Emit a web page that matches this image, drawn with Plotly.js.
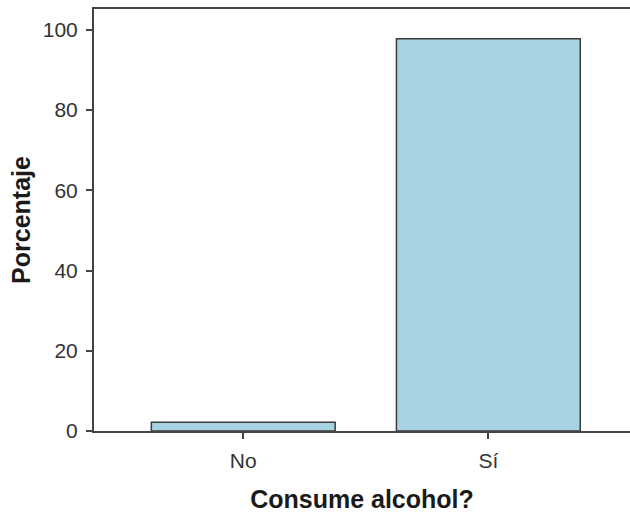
<!DOCTYPE html>
<html>
<head>
<meta charset="utf-8">
<script src="https://cdn.plot.ly/plotly-3.0.1.min.js"></script>
<style>html,body{margin:0;padding:0;background:#fff}#chart{width:630px;height:514px}</style>
</head>
<body>
<div id="chart"></div>
<script>
const categories = ["No", "Sí"];
const percentages = [2.2, 97.8];
const yTickValues = [0, 20, 40, 60, 80, 100];
const xTitle = "Consume alcohol?";
const yTitle = "Porcentaje";

const trace = {
  type: "bar",
  x: categories,
  y: percentages,
  width: 0.75,
  marker: { color: "#a6d2e1", line: { color: "#3a3a3a", width: 1.5 } },
  hoverinfo: "none"
};

const layout = {
  width: 630,
  height: 514,
  margin: { l: 94, r: 0, t: 9, b: 83, pad: 0 },
  paper_bgcolor: "#ffffff",
  plot_bgcolor: "#ffffff",
  showlegend: false,
  font: { family: "Liberation Sans, Arial, sans-serif", color: "#333333" },
  xaxis: {
    type: "category",
    range: [-0.609, 1.578],
    showline: true,
    linecolor: "#444444",
    linewidth: 2,
    mirror: true,
    ticks: "outside",
    ticklen: 6,
    tickwidth: 2,
    tickcolor: "#444444",
    ticklabelstandoff: 4,
    showgrid: false,
    zeroline: false,
    tickfont: { size: 21, color: "#333333" },
    title: { text: xTitle, font: { size: 25, color: "#1a1a1a", family: "Liberation Sans, Arial, sans-serif", weight: "bold" }, standoff: 19 }
  },
  yaxis: {
    range: [0, 105.2],
    tickvals: yTickValues,
    showline: true,
    linecolor: "#444444",
    linewidth: 2,
    mirror: false,
    ticks: "outside",
    ticklen: 6,
    tickwidth: 2,
    tickcolor: "#444444",
    ticklabelstandoff: 4,
    showgrid: false,
    zeroline: false,
    tickfont: { size: 21, color: "#333333" },
    title: { text: yTitle, font: { size: 25, color: "#1a1a1a", family: "Liberation Sans, Arial, sans-serif", weight: "bold" }, standoff: 5 }
  }
};

Plotly.newPlot("chart", [trace], layout, { displayModeBar: false, staticPlot: true });
</script>
</body>
</html>
